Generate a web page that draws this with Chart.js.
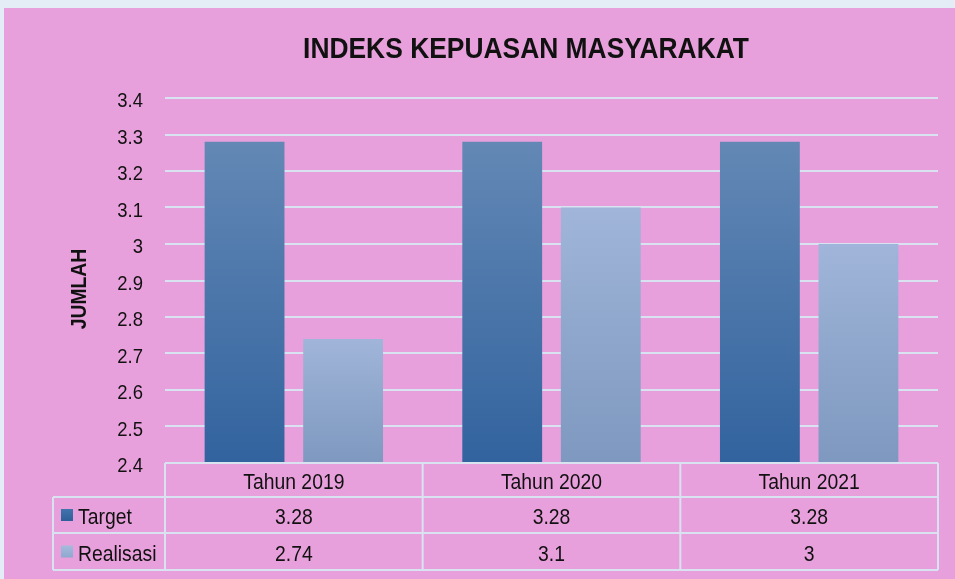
<!DOCTYPE html>
<html>
<head>
<meta charset="utf-8">
<script src="https://cdn.jsdelivr.net/npm/chart.js@4/dist/chart.umd.min.js"></script>
<style>
  html, body { margin: 0; padding: 0; background: #e4ecf5; }
  #wrap { width: 955px; height: 579px; }
</style>
</head>
<body>
<div id="wrap"><canvas id="ikm" width="955" height="579"></canvas></div>
<script>
var categories = ["Tahun 2019", "Tahun 2020", "Tahun 2021"];
var target_values = [3.28, 3.28, 3.28];
var realisasi_values = [2.74, 3.1, 3];
var series_names = ["Target", "Realisasi"];
var y_min = 2.4, y_max = 3.4, y_step = 0.1;

var FONT = "'Liberation Sans', Arial, sans-serif";
var NARROW = 0.88; // no narrow face installed, squeeze the text instead
var PINK = "#e8a0dc";
var LINE = "#d8e2f0";
var INK = "#111";

function bar_gradient(top_color, bottom_color, solid) {
    return function (context) {
        var chart = context.chart;
        var area = chart.chartArea;
        if (!area) return solid;
        var top = chart.scales.y.getPixelForValue(context.raw);
        var g = chart.ctx.createLinearGradient(0, top, 0, area.bottom);
        g.addColorStop(0, top_color);
        g.addColorStop(1, bottom_color);
        return g;
    };
}

function narrow_text(ctx, text, x, y, font, align, angle) {
    ctx.save();
    ctx.translate(x, y);
    if (angle) ctx.rotate(angle);
    ctx.scale(NARROW, 1);
    ctx.font = font;
    ctx.textAlign = align;
    ctx.textBaseline = "alphabetic";
    ctx.fillStyle = INK;
    ctx.fillText(text, 0, 0);
    ctx.restore();
}

// frame, title, y labels and the data table under the plot
var tablePlugin = {
    id: "tablePlugin",
    beforeDraw: function (chart) {
        var ctx = chart.ctx;
        ctx.save();
        ctx.fillStyle = "#e4ecf5";
        ctx.fillRect(0, 0, chart.width, chart.height);
        ctx.fillStyle = PINK;
        ctx.fillRect(4, 8, chart.width - 4, chart.height - 8);
        ctx.restore();
    },
    afterDraw: function (chart) {
        var ctx = chart.ctx;
        var area = chart.chartArea;
        var xs = chart.scales.x;
        var ys = chart.scales.y;

        narrow_text(ctx, "INDEKS KEPUASAN MASYARAKAT", 526, 58, "bold 30px " + FONT, "center");
        narrow_text(ctx, "JUMLAH", 86, 289, "bold 22px " + FONT, "center", -Math.PI / 2);

        // y tick labels
        ys.ticks.forEach(function (t) {
            var label = String(Math.round(t.value * 10) / 10);
            narrow_text(ctx, label, 143, ys.getPixelForValue(t.value) + 9, "21px " + FONT, "right");
        });

        // table geometry
        var half = (xs.getPixelForValue(1) - xs.getPixelForValue(0)) / 2;
        var colEdges = [area.left];
        for (var i = 0; i < categories.length; i++) {
            colEdges.push(xs.getPixelForValue(i) + half);
        }
        var rows = [area.bottom, area.bottom + 34, area.bottom + 70, area.bottom + 107];
        var legendLeft = 53;

        ctx.save();
        ctx.strokeStyle = LINE;
        ctx.lineWidth = 2;
        ctx.beginPath();
        ctx.moveTo(area.left, rows[0]); ctx.lineTo(area.right, rows[0]);
        for (var r = 1; r < rows.length; r++) {
            ctx.moveTo(legendLeft, rows[r]); ctx.lineTo(area.right, rows[r]);
        }
        ctx.moveTo(legendLeft, rows[1]); ctx.lineTo(legendLeft, rows[3]);
        for (var c = 0; c < colEdges.length; c++) {
            ctx.moveTo(colEdges[c], rows[0]); ctx.lineTo(colEdges[c], rows[3]);
        }
        ctx.stroke();
        ctx.restore();

        var cellFont = "22px " + FONT;
        for (var k = 0; k < categories.length; k++) {
            narrow_text(ctx, categories[k], xs.getPixelForValue(k), rows[0] + 26, cellFont, "center");
        }

        var series = [target_values, realisasi_values];
        var keys = [["#4373ad", "#2f5f98"], ["#a6badc", "#8ea8cf"]];
        for (var s = 0; s < series.length; s++) {
            var cy = (rows[s + 1] + rows[s + 2]) / 2;
            ctx.save();
            var g = ctx.createLinearGradient(0, cy - 6, 0, cy + 6);
            g.addColorStop(0, keys[s][0]);
            g.addColorStop(1, keys[s][1]);
            ctx.fillStyle = g;
            ctx.fillRect(61, cy - 6, 12, 12);
            ctx.restore();
            narrow_text(ctx, series_names[s], 78, cy + 9, cellFont, "left");
            for (var v = 0; v < series[s].length; v++) {
                narrow_text(ctx, String(series[s][v]), xs.getPixelForValue(v), cy + 9, cellFont, "center");
            }
        }
    }
};

var data = {
    labels: categories,
    datasets: [{
        label: series_names[0],
        data: target_values,
        backgroundColor: bar_gradient("#6388b5", "#32639e", "#4070aa"),
        categoryPercentage: 0.765,
        barPercentage: 0.81
    }, {
        label: series_names[1],
        data: realisasi_values,
        backgroundColor: bar_gradient("#a0b5d9", "#7e98bf", "#93acd4"),
        categoryPercentage: 0.765,
        barPercentage: 0.81
    }]
};

var config = {
    type: "bar",
    data: data,
    plugins: [tablePlugin],
    options: {
        responsive: false,
        animation: false,
        layout: { padding: { top: 98, left: 5, right: 17, bottom: 9 } },
        plugins: {
            legend: { display: false },
            title: { display: false },
            tooltip: { enabled: false }
        },
        scales: {
            x: {
                grid: { display: false },
                border: { display: false },
                ticks: { display: false },
                afterFit: function (scale) { scale.height = 107; }
            },
            y: {
                min: y_min,
                max: y_max,
                afterFit: function (scale) { scale.width = 160; },
                grid: { color: LINE, lineWidth: 2, drawTicks: false },
                border: { display: false },
                ticks: { stepSize: y_step, display: false }
            }
        }
    }
};

new Chart(document.getElementById("ikm").getContext("2d"), config);
</script>
</body>
</html>
